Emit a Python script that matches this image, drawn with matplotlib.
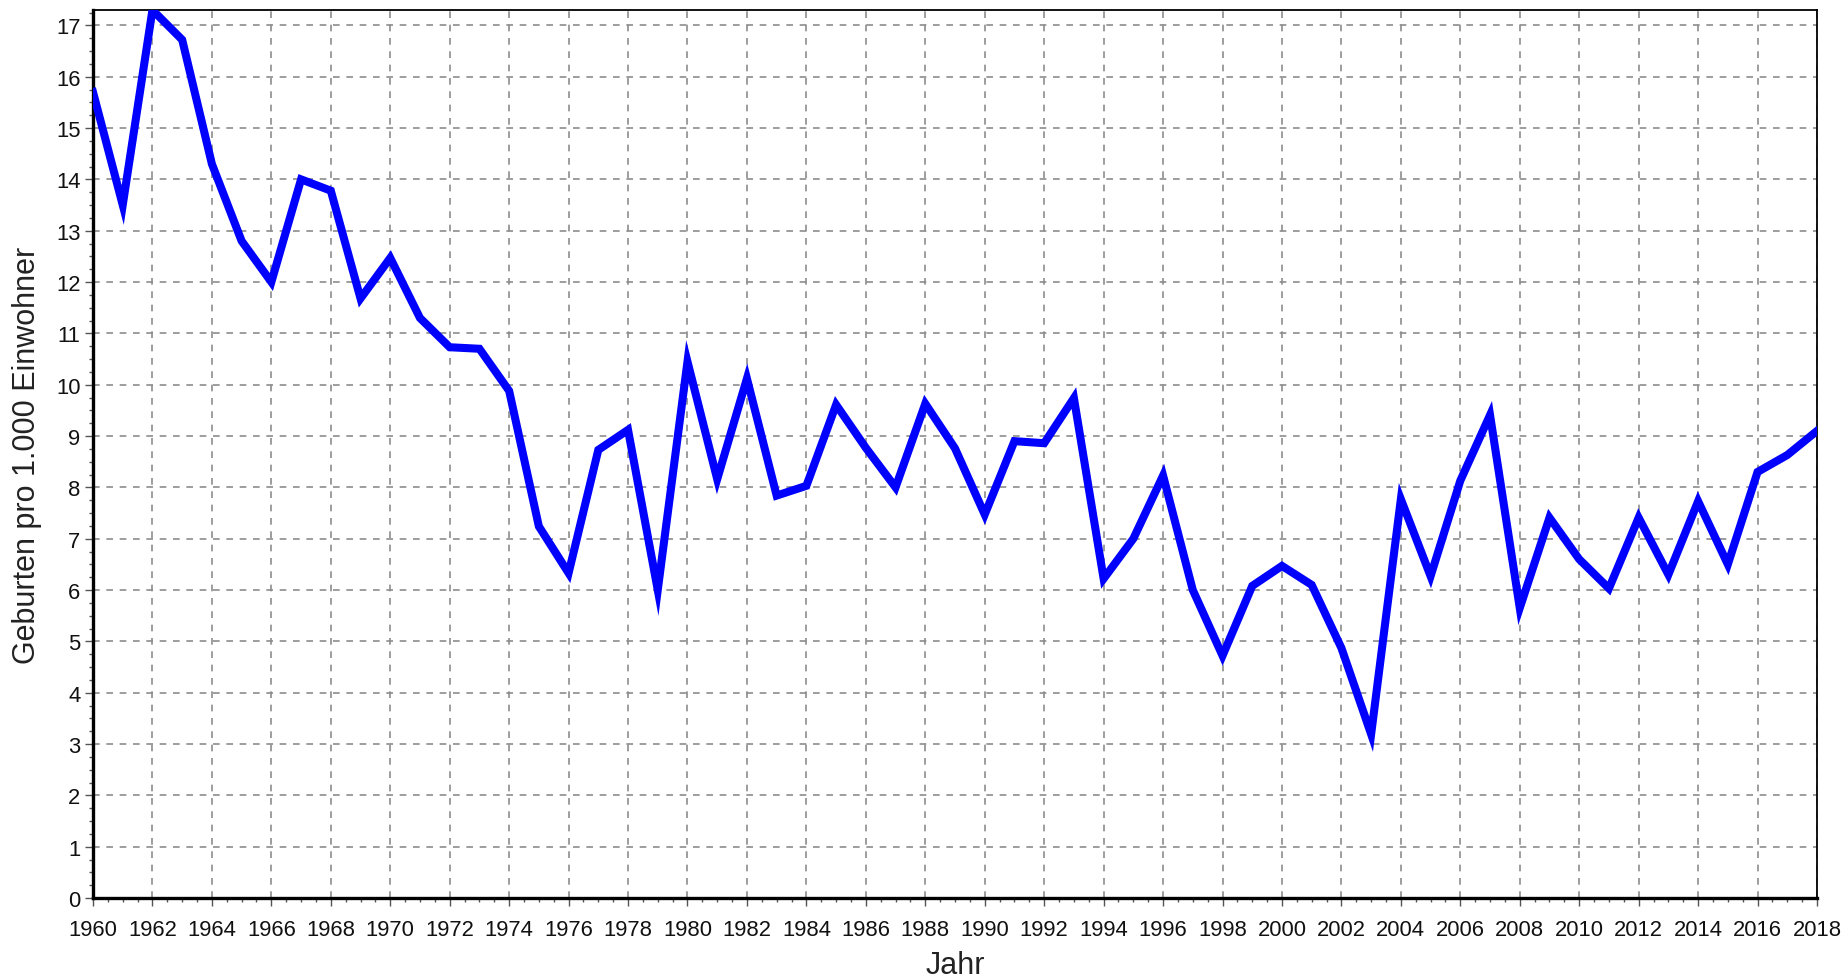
import matplotlib
matplotlib.use("Agg")
import matplotlib.pyplot as plt
from matplotlib.ticker import MultipleLocator

plt.rcParams['font.family'] = ['Liberation Sans', 'DejaVu Sans']

jahre = list(range(1960, 2019))
geburten = [15.7, 13.5, 17.3, 16.72, 14.3, 12.8, 12.0, 14.0, 13.78, 11.68,
            12.47, 11.3, 10.73, 10.7, 9.88, 7.24, 6.33, 8.73, 9.12, 6.0,
            10.45, 8.16, 10.12, 7.84, 8.03, 9.61, 8.77, 8.0, 9.63, 8.76,
            7.47, 8.9, 8.86, 9.74, 6.22, 7.0, 8.23, 6.0, 4.72, 6.08,
            6.47, 6.1, 4.87, 3.19, 7.77, 6.27, 8.13, 9.41, 5.65, 7.41,
            6.6, 6.03, 7.41, 6.3, 7.73, 6.5, 8.3, 8.63, 9.1]

fig = plt.figure(figsize=(18.45, 9.78), dpi=100)
ax = fig.add_axes([93 / 1845, 1 - 899 / 978, (1817 - 93) / 1845, (899 - 11) / 978])

ax.plot(jahre, geburten, color='#0000ff', linewidth=5.8, solid_joinstyle='miter', zorder=3)

ax.set_xlim(1960, 2018)
ax.set_ylim(0, 17.3)
ax.xaxis.set_major_locator(MultipleLocator(2))
ax.xaxis.set_minor_locator(MultipleLocator(0.5))
ax.yaxis.set_major_locator(MultipleLocator(1))
ax.yaxis.set_minor_locator(MultipleLocator(0.25))

ax.grid(True, which='major', color='#8c8c8c', linestyle=(0, (4, 4)), linewidth=1.2)

for side in ['left', 'bottom']:
    ax.spines[side].set_linewidth(2.4)
for side in ['top', 'right']:
    ax.spines[side].set_linewidth(1.3)

ax.tick_params(axis='both', which='major', length=6, width=1, color='#555555',
               labelsize=15.8, pad=3, labelcolor='#111111')
ax.tick_params(axis='both', which='minor', length=3, width=1, color='#555555')
ax.tick_params(axis='x', pad=9)

ax.set_xlabel('Jahr', fontsize=22, color='#222222', labelpad=7)
ax.set_ylabel('Geburten pro 1.000 Einwohner', fontsize=22, color='#222222', labelpad=10)

fig.savefig('out.png', dpi=100)
